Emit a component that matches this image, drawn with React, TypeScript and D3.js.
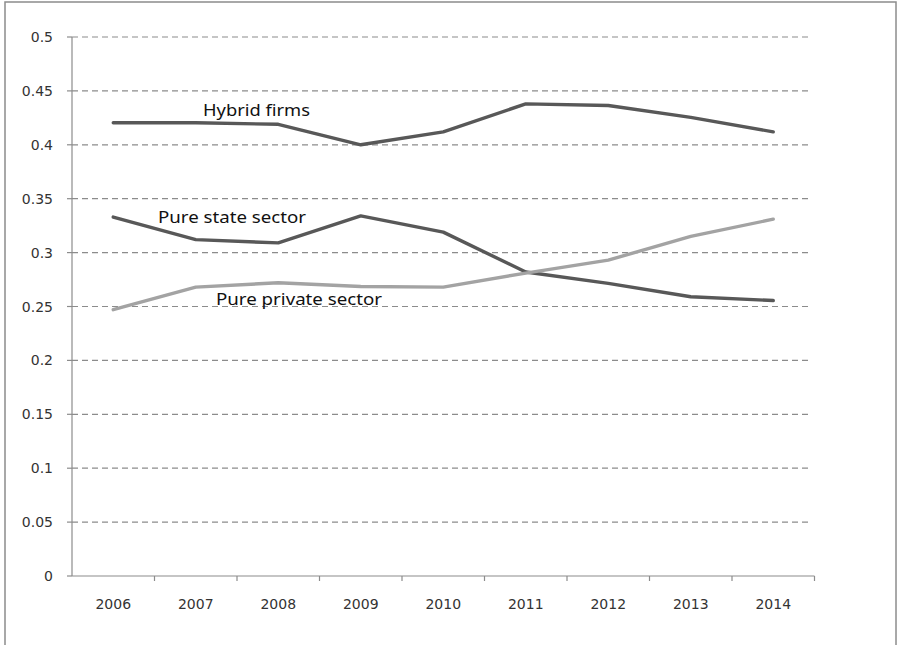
import React from "react";
import * as d3 from "d3";

const years = ["2006", "2007", "2008", "2009", "2010", "2011", "2012", "2013", "2014"];
const hybrid = [0.4205, 0.4205, 0.419, 0.4, 0.412, 0.438, 0.4365, 0.4255, 0.412];
const pureState = [0.333, 0.312, 0.309, 0.334, 0.319, 0.282, 0.2715, 0.259, 0.2555];
const purePrivate = [0.247, 0.268, 0.272, 0.2685, 0.268, 0.281, 0.293, 0.315, 0.331];
const yTicks = [0, 0.05, 0.1, 0.15, 0.2, 0.25, 0.3, 0.35, 0.4, 0.45, 0.5];
const yTickLabels = ["0", "0.05", "0.1", "0.15", "0.2", "0.25", "0.3", "0.35", "0.4", "0.45", "0.5"];

const seriesList = [
  { name: "Hybrid firms", values: hybrid, color: "#585858", lx: 203, ly: 116, lw: 107 },
  { name: "Pure state sector", values: pureState, color: "#585858", lx: 158, ly: 223, lw: 148 },
  { name: "Pure private sector", values: purePrivate, color: "#a3a3a3", lx: 216, ly: 305, lw: 166 },
];

export default function App() {
  const W = 898, H = 645;
  const x = d3.scaleBand().domain(years).range([72, 814.5]);
  const y = d3.scaleLinear().domain([0, 0.5]).range([576, 37]);
  const cx = (d: string) => (x(d) as number) + x.bandwidth() / 2;
  const line = d3.line<number>().x((_, i) => cx(years[i])).y((v) => y(v));
  const tickFont = "'DejaVu Sans', Verdana, sans-serif";
  const labelFont = "'Noto Sans', 'Open Sans', sans-serif";
  return (
    <svg width={W} height={H} style={{ position: "absolute", left: 0, top: 0, background: "#fff" }}>
      <rect x={5} y={2} width={891} height={660} fill="#fff" stroke="#8c8c8c" strokeWidth={1.5} />
      {yTicks.map((t, i) => (
        <g key={t}>
          {t > 0 && (
            <line x1={72} x2={812} y1={y(t)} y2={y(t)} stroke="#8c8c8c" strokeWidth={1.2} strokeDasharray="6,4" />
          )}
          <line x1={67} x2={72} y1={y(t)} y2={y(t)} stroke="#8c8c8c" strokeWidth={1.2} />
          <text x={53} y={y(t) + 5} textAnchor="end" fontFamily={tickFont} fontSize={14} fill="#333">
            {yTickLabels[i]}
          </text>
        </g>
      ))}
      <line x1={72} x2={72} y1={y(0.5)} y2={y(0)} stroke="#8c8c8c" strokeWidth={1.2} />
      <line x1={72} x2={814.5} y1={y(0)} y2={y(0)} stroke="#8c8c8c" strokeWidth={1.2} />
      {years.map((yr) => (
        <line key={"t" + yr} x1={(x(yr) as number) + x.bandwidth()} x2={(x(yr) as number) + x.bandwidth()} y1={576} y2={581} stroke="#8c8c8c" strokeWidth={1.2} />
      ))}
      {years.map((yr) => (
        <text key={yr} x={cx(yr)} y={609} textAnchor="middle" fontFamily={tickFont} fontSize={14} fill="#333">
          {yr}
        </text>
      ))}
      {seriesList.map((s) => (
        <path key={s.name} d={line(s.values) as string} fill="none" stroke={s.color} strokeWidth={3.4} strokeLinejoin="round" strokeLinecap="round" />
      ))}
      {seriesList.map((s) => (
        <text key={"l" + s.name} x={s.lx} y={s.ly} fontFamily={labelFont} fontSize={15.5} fill="#111" textLength={s.lw} lengthAdjust="spacingAndGlyphs">
          {s.name}
        </text>
      ))}
    </svg>
  );
}
